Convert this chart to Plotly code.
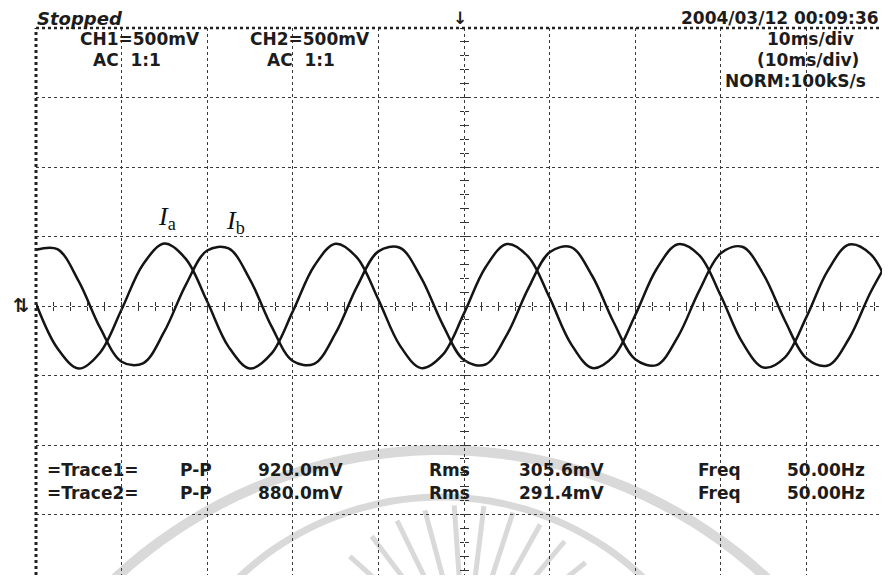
import plotly.graph_objects as go
import numpy as np

t_ms = [0, 2.5, 5, 7.5, 10, 12.5, 15, 17.5, 20, 22.5, 25, 27.5, 30, 32.5, 35, 37.5,
        40, 42.5, 45, 47.5, 50, 52.5, 55, 57.5, 60, 62.5, 65, 67.5, 70, 72.5, 75, 77.5,
        80, 82.5, 85, 87.5, 90, 92.5, 95, 97.5, 100]
ia_mV = [18, -304, -450, -334, -25, 299, 449, 339, 32, -294, -449, -343, -39, 288, 448, 348,
         46, -283, -447, -352, -53, 277, 446, 356, 60, -272, -446, -361, -67, 266, 445, 365,
         74, -260, -443, -369, -80, 255, 442, 373, 87]
ib_mV = [404, 409, 177, -158, -401, -412, -183, 152, 399, 414, 190, -145, -396, -416, -196, 139,
         393, 419, 202, -132, -389, -421, -208, 125, 386, 423, 214, -119, -383, -425, -220, 112,
         379, 426, 226, -106, -376, -428, -232, 99, 372]

wave_names = ["a", "b"]
channel_labels = ["CH1=500mV", "CH2=500mV"]
coupling_labels = ["AC  1:1", "AC  1:1"]
timebase_labels = ["10ms/div", "(10ms/div)", "NORM:100kS/s"]
status_text = "Stopped"
date_text = "2004/03/12 00:09:36"
trace_labels = ["=Trace1=", "=Trace2="]
pp_label, rms_label, freq_label = "P-P", "Rms", "Freq"
pp_values = ["920.0mV", "880.0mV"]
rms_values = ["305.6mV", "291.4mV"]
freq_values = ["50.00Hz", "50.00Hz"]

# ---------------- layout geometry ----------------
OFF = 8                      # default margin of the html body
WIN_W, WIN_H = 890, 583      # browser window
W, H = WIN_W - 2 * OFF, WIN_H - 2 * OFF   # keep the page free of scrollbars
L_WIN, T_WIN = 36, 28        # plot-area left / top in window pixels
L, T = L_WIN - OFF, T_WIN - OFF
PW, PH = W - L, H - T
PX_PER_MS = 8.56
PX_PER_MV = 0.139
X_RANGE = [0, PW / PX_PER_MS]
Y_RANGE = [2000 - PH / PX_PER_MV, 2000]


def px(x):
    """window pixel x -> paper fraction"""
    return (x - OFF - L) / PW


def py(y):
    """window pixel y -> paper fraction"""
    return (H - (y - OFF)) / PH


INK = "#1c1c1c"
SANS = "DejaVu Sans"

fig = go.Figure()

for vals in (ia_mV, ib_mV):
    fig.add_trace(go.Scatter(
        x=t_ms, y=vals, mode="lines",
        line=dict(color="#141414", width=2.5, shape="spline", smoothing=1.0),
        showlegend=False, hoverinfo="skip"))

# dummy traces so the centre tick axes are drawn
for xa, ya in (("x2", "y"), ("x3", "y"), ("x", "y2"), ("x", "y3")):
    fig.add_trace(go.Scatter(x=[None], y=[None], xaxis=xa, yaxis=ya,
                             showlegend=False, hoverinfo="skip"))

grid = dict(showgrid=True, gridcolor="#3a3a3a", griddash="dot", gridwidth=1.3,
            showticklabels=False, ticks="", zeroline=False, showline=False, fixedrange=True)

xpos_center = (50 - X_RANGE[0]) / (X_RANGE[1] - X_RANGE[0])
ypos_center = (0 - Y_RANGE[0]) / (Y_RANGE[1] - Y_RANGE[0])

centre_tick = dict(showgrid=False, zeroline=False, showline=False, showticklabels=False,
                   ticklen=4, tickwidth=1.3, tickcolor="#333333", fixedrange=True)

fig.update_layout(
    width=W, height=H,
    margin=dict(l=L, r=0, t=T, b=0),
    paper_bgcolor="white", plot_bgcolor="white",
    xaxis=dict(range=X_RANGE, dtick=10, tick0=0, **grid),
    yaxis=dict(range=Y_RANGE, dtick=500, tick0=0, **grid),
    xaxis2=dict(range=X_RANGE, overlaying="x", anchor="free", position=ypos_center,
                ticks="inside", dtick=2, tick0=0, **centre_tick),
    xaxis3=dict(range=X_RANGE, overlaying="x", anchor="free", position=ypos_center,
                ticks="outside", dtick=2, tick0=0, **centre_tick),
    yaxis2=dict(range=Y_RANGE, overlaying="y", anchor="free", position=xpos_center,
                ticks="inside", dtick=100, tick0=0, **centre_tick),
    yaxis3=dict(range=Y_RANGE, overlaying="y", anchor="free", position=xpos_center,
                ticks="outside", dtick=100, tick0=0, **centre_tick),
)

shapes = []
# faint watermark (arcs + rays)
WM = "#d9d9d9"


def arc_path(cxp, cyp, r):
    ang = np.linspace(np.pi * 0.98, np.pi * 0.02, 80)
    pts = [(cxp + r * np.cos(a), cyp - r * np.sin(a)) for a in ang]
    return "M " + " L ".join(f"{px(x):.4f},{py(y):.4f}" for x, y in pts)


shapes.append(dict(type="path", path=arc_path(441, 928, 478), xref="paper", yref="paper",
                   line=dict(color=WM, width=10), layer="below"))
shapes.append(dict(type="path", path=arc_path(441, 791, 294), xref="paper", yref="paper",
                   line=dict(color=WM, width=7), layer="below"))
for a in range(28, 160, 11):
    ar = np.radians(a)
    x0, y0 = 465 + 80 * np.cos(ar), 660 - 80 * np.sin(ar)
    x1, y1 = 465 + 155 * np.cos(ar), 660 - 155 * np.sin(ar)
    shapes.append(dict(type="line", xref="paper", yref="paper",
                       x0=px(x0), y0=py(y0), x1=px(x1), y1=py(y1),
                       line=dict(color=WM, width=5), layer="below"))

# screen frame: thick left edge and top edge
shapes.append(dict(type="line", xref="paper", yref="paper", x0=0, x1=0, y0=0, y1=1,
                   line=dict(color="#222222", width=3, dash="dot")))
shapes.append(dict(type="line", xref="paper", yref="paper", x0=0, x1=1, y0=1, y1=1,
                   line=dict(color="#222222", width=2.5, dash="dot")))
fig.update_layout(shapes=shapes)

ann = []


def add(text, x, y, size=17, xanchor="center", family=SANS, color=INK):
    ann.append(dict(text=text, x=px(x), y=py(y), xref="paper", yref="paper",
                    xanchor=xanchor, yanchor="middle", showarrow=False,
                    font=dict(family=family, size=size, color=color)))


add(f"<b><i>{status_text}</i></b>", 35, 18, size=18, xanchor="left")
add(f"<b>{date_text}</b>", 881, 18, size=17, xanchor="right")
add("<b>↓</b>", 460, 18, size=17)
add("<b>⇅</b>", 21, 305, size=19)

for lbl, cpl, cxh, cxa in zip(channel_labels, coupling_labels, (140, 310), (127, 301)):
    add(f"<b>{lbl}</b>", cxh, 39)
    add(f"<b>{cpl}</b>", cxa, 60)

for lbl, xc, yc in zip(timebase_labels, (810, 808, 795), (39, 60, 81)):
    add(f"<b>{lbl}</b>", xc, yc)

for i, yrow in enumerate((470, 493)):
    add(f"<b>{trace_labels[i]}</b>", 93, yrow)
    add(f"<b>{pp_label}</b>", 196, yrow)
    add(f"<b>{pp_values[i]}</b>", 300, yrow)
    add(f"<b>{rms_label}</b>", 449, yrow)
    add(f"<b>{rms_values[i]}</b>", 561, yrow)
    add(f"<b>{freq_label}</b>", 719, yrow)
    add(f"<b>{freq_values[i]}</b>", 826, yrow)

for name, xl, yl in zip(wave_names, (156, 224), (218, 222)):
    add(f"<i>I</i><sub>{name}</sub>", xl, yl, size=26, xanchor="left",
        family="Liberation Serif", color="#111111")

fig.update_layout(annotations=ann)

fig.write_html("out.html")
